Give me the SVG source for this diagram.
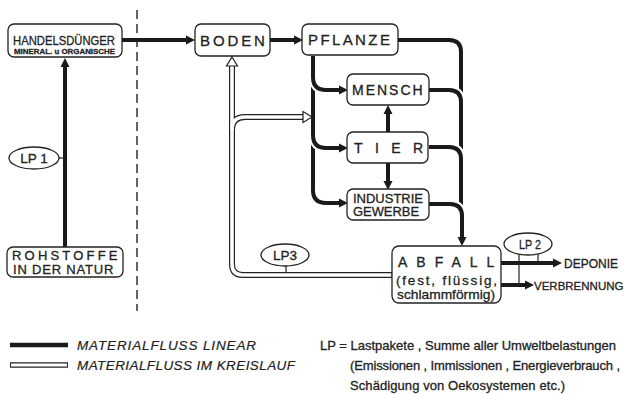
<svg xmlns="http://www.w3.org/2000/svg" width="624" height="394" viewBox="0 0 624 394">
<style>
.box{fill:#fff;stroke:#222;stroke-width:1.3}
.t{font-family:"Liberation Sans",Arial,sans-serif;fill:#222;stroke:#222;stroke-width:0.3}
.it{font-family:"Liberation Sans",Arial,sans-serif;font-style:italic;fill:#222;stroke:#222;stroke-width:0.2}
.thick{fill:none;stroke:#1a1a1a;stroke-width:4}
.halo{fill:none;stroke:#fff;stroke-width:8}
.hb{fill:none;stroke:#222;stroke-width:6}
.hw{fill:none;stroke:#fff;stroke-width:3.6}
.thin{fill:none;stroke:#222;stroke-width:1.2}
.ell{fill:#fff;stroke:#222;stroke-width:1.3}
</style>
<defs>
<marker id="ah" markerUnits="userSpaceOnUse" viewBox="0 0 10 10" refX="0" refY="5" markerWidth="9" markerHeight="10" orient="auto">
<path d="M0,0 L10,5 L0,10 z" fill="#1a1a1a"/>
</marker>
</defs>

<g id="divider">
<line x1="137" y1="10" x2="137" y2="311" stroke="#222" stroke-width="1.4" stroke-dasharray="9 5"/>
</g>

<g id="connectors">
<line class="thick" x1="65" y1="247" x2="65" y2="67" marker-end="url(#ah)"/>
<line class="thin" x1="59" y1="158" x2="65" y2="158"/>
<line class="thick" x1="122" y1="40" x2="186" y2="40" marker-end="url(#ah)"/>
<line class="thick" x1="270" y1="40" x2="294" y2="40" marker-end="url(#ah)"/>
<path class="halo" d="M313,143 V190 Q313,203 326,203 H339"/>
<path class="thick" d="M313,143 V190 Q313,203 326,203 H339" marker-end="url(#ah)"/>
<path class="halo" d="M313,87 V135 Q313,148 326,148 H339"/>
<path class="thick" d="M313,87 V135 Q313,148 326,148 H339" marker-end="url(#ah)"/>
<path class="halo" d="M313,57 V77 Q313,90 326,90 H339"/>
<path class="thick" d="M313,56 V77 Q313,90 326,90 H339" marker-end="url(#ah)"/>
<line class="thick" x1="388" y1="132" x2="388" y2="114" marker-end="url(#ah)"/>
<line class="thick" x1="388" y1="163" x2="388" y2="181" marker-end="url(#ah)"/>
<path class="thick" d="M398,40 H449 Q461,40 461,52 V230"/>
<path class="halo" d="M430,90 H449 Q461,90 461,102 V230"/>
<path class="thick" d="M429,90 H449 Q461,90 461,102 V230"/>
<path class="halo" d="M430,147 H449 Q461,147 461,159 V230"/>
<path class="thick" d="M429,147 H449 Q461,147 461,159 V230"/>
<path class="halo" d="M430,204 H450 Q462,204 462,216 V237"/>
<path class="thick" d="M429,204 H450 Q462,204 462,216 V237" marker-end="url(#ah)"/>
<line class="thick" x1="501" y1="263" x2="553" y2="263" marker-end="url(#ah)"/>
<line class="thick" x1="501" y1="285" x2="525" y2="285" marker-end="url(#ah)"/>
<line class="thin" x1="519" y1="254" x2="519" y2="285"/>
<line class="thin" x1="538" y1="254" x2="538" y2="263"/>
<path class="hb" d="M232,66 V264 Q232,275 243,275 H392"/>
<path class="hb" d="M232,130 Q232,117 245,117 H304"/>
<path class="hw" d="M232,65 V264 Q232,275 243,275 H391.5"/>
<path class="hw" d="M232,130 Q232,117 245,117 H305"/>
<polygon points="232,57 237.5,66 226.5,66" fill="#fff" stroke="#222" stroke-width="1.2"/>
<polygon points="312,117 303,111.5 303,122.5" fill="#fff" stroke="#222" stroke-width="1.2"/>
<line class="thin" x1="286" y1="266" x2="286" y2="272.5"/>
</g>

<g id="handelsduenger">
<rect class="box" x="8" y="24" width="114" height="33" rx="6"/>
<text class="t" x="13" y="44.5" font-size="13" textLength="102" lengthAdjust="spacingAndGlyphs">HANDELSDÜNGER</text>
<text class="t" x="14" y="54" font-size="7.5" font-weight="bold" stroke-width="0" textLength="101" lengthAdjust="spacingAndGlyphs">MINERAL. u ORGANISCHE</text>
</g>
<g id="rohstoffe">
<rect class="box" x="7" y="247" width="116" height="30" rx="6"/>
<text class="t" x="12" y="259.5" font-size="13" letter-spacing="3.2">ROHSTOFFE</text>
<text class="t" x="13" y="274" font-size="13" letter-spacing="0.8">IN DER NATUR</text>
</g>
<g id="lp1">
<ellipse class="ell" cx="34" cy="158" rx="25" ry="11"/>
<text class="t" x="34" y="163" font-size="13.5" text-anchor="middle">LP 1</text>
</g>
<g id="boden">
<rect class="box" x="195" y="24" width="75" height="32" rx="6"/>
<text class="t" x="200" y="45.5" font-size="15" letter-spacing="2.9">BODEN</text>
</g>
<g id="pflanze">
<rect class="box" x="302" y="24" width="96" height="31" rx="6"/>
<text class="t" x="308" y="45" font-size="15" letter-spacing="2.4">PFLANZE</text>
</g>
<g id="mensch">
<rect class="box" x="347" y="74" width="82" height="31" rx="6"/>
<text class="t" x="352" y="95" font-size="14" letter-spacing="2">MENSCH</text>
</g>
<g id="tier">
<rect class="box" x="347" y="132" width="81" height="31" rx="6"/>
<text class="t" x="354" y="152.5" font-size="14" letter-spacing="12.4">TIER</text>
</g>
<g id="industrie">
<rect class="box" x="347" y="189" width="82" height="31" rx="6"/>
<text class="t" x="353" y="203" font-size="12.5" textLength="70" lengthAdjust="spacingAndGlyphs">INDUSTRIE</text>
<text class="t" x="353" y="215.5" font-size="12.5" textLength="66" lengthAdjust="spacingAndGlyphs">GEWERBE</text>
</g>
<g id="abfall">
<rect class="box" x="392" y="246" width="109" height="57" rx="7"/>
<text class="t" x="398" y="267" font-size="14" letter-spacing="9">ABFALL</text>
<text class="t" x="396" y="285" font-size="13.5" textLength="101" lengthAdjust="spacing">(fest,   flüssig,</text>
<text class="t" x="397" y="299" font-size="13.5" textLength="98" lengthAdjust="spacingAndGlyphs">schlammförmig)</text>
</g>
<g id="lp2">
<ellipse class="ell" cx="528" cy="244" rx="24" ry="11"/>
<text class="t" x="519" y="249" font-size="13.5" textLength="22" lengthAdjust="spacingAndGlyphs">LP 2</text>
</g>
<g id="lp3">
<ellipse class="ell" cx="285" cy="255" rx="24" ry="11"/>
<text class="t" x="285" y="260" font-size="13.5" text-anchor="middle">LP3</text>
</g>
<g id="deponie">
<text class="t" x="564" y="268" font-size="12">DEPONIE</text>
</g>
<g id="verbrennung">
<text class="t" x="534" y="290" font-size="11.5">VERBRENNUNG</text>
</g>

<g id="legend">
<line x1="10" y1="345" x2="68" y2="345" stroke="#1a1a1a" stroke-width="4.5"/>
<line x1="10" y1="365" x2="68" y2="365" stroke="#222" stroke-width="5.5"/>
<line x1="11" y1="365" x2="67" y2="365" stroke="#fff" stroke-width="3.2"/>
<text class="it" x="77" y="349.5" font-size="13.5" textLength="179" lengthAdjust="spacing">MATERIALFLUSS  LINEAR</text>
<text class="it" x="77" y="369.5" font-size="13.5" textLength="218" lengthAdjust="spacing">MATERIALFLUSS IM KREISLAUF</text>
<text class="t" x="320" y="350" font-size="13" textLength="296" lengthAdjust="spacing">LP = Lastpakete , Summe aller Umweltbelastungen</text>
<text class="t" x="350" y="370" font-size="13" textLength="270" lengthAdjust="spacing">(Emissionen , Immissionen , Energieverbrauch ,</text>
<text class="t" x="350" y="390" font-size="13" textLength="215" lengthAdjust="spacing">Schädigung von Oekosystemen   etc.)</text>
</g>
</svg>
